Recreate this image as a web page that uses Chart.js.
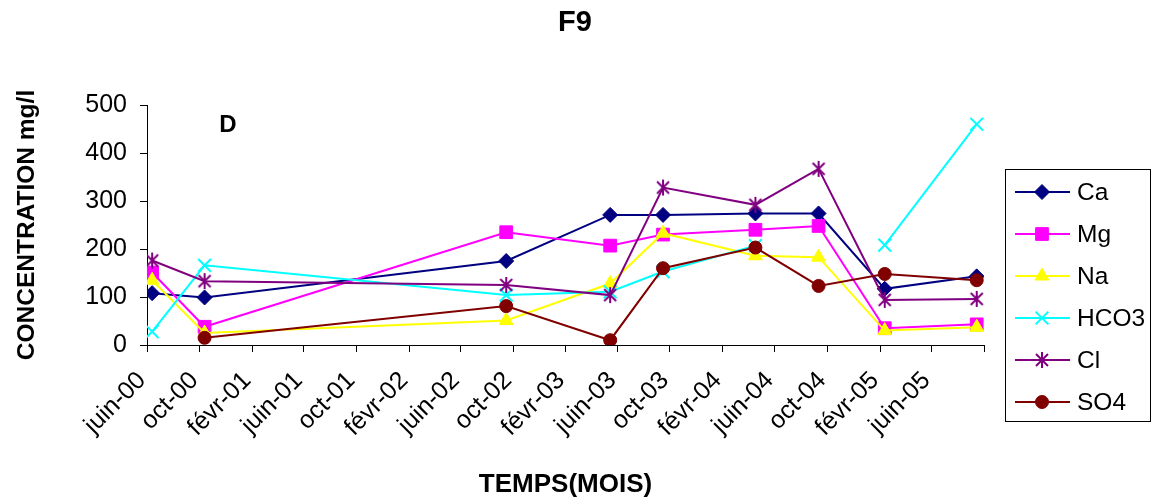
<!DOCTYPE html>
<html>
<head>
<meta charset="utf-8">
<title>F9</title>
<script src="https://cdn.jsdelivr.net/npm/chart.js@4.4.1/dist/chart.umd.min.js"></script>
<style>
  html, body { margin: 0; padding: 0; background: #fff; }
  #wrap { width: 1157px; height: 502px; }
</style>
</head>
<body>
<div id="wrap"><canvas id="c" width="1157" height="502"></canvas></div>
<script>
// Sampling dates of well F9
const sampleDates = ['2000-06-13', '2000-10-13', '2002-09-15', '2003-05-15', '2003-09-15',
                     '2004-04-17', '2004-09-11', '2005-02-12', '2005-09-14'];

// Major ticks every four months
const tickDates = ['2000-06-01', '2000-10-01', '2001-02-01', '2001-06-01', '2001-10-01',
                   '2002-02-01', '2002-06-01', '2002-10-01', '2003-02-01', '2003-06-01',
                   '2003-10-01', '2004-02-01', '2004-06-01', '2004-10-01', '2005-02-01',
                   '2005-06-01', '2005-10-01'];
const tickLabels = ['juin-00', 'oct-00', 'févr-01', 'juin-01', 'oct-01', 'févr-02', 'juin-02',
                    'oct-02', 'févr-03', 'juin-03', 'oct-03', 'févr-04', 'juin-04', 'oct-04',
                    'févr-05', 'juin-05', ''];

// Concentrations (mg/l); null = not analysed
const ca   = [108,  99, 175, 271, 271, 274, 274, 117, 143];
const mg   = [151,  38, 235, 207, 230, 240, 248,  35,  43];
const na   = [135,  25,  51, 128, 233, 186, 183,  30,  37];
const hco3 = [ 28, 166, 104, 111, 153, 207, null, 208, 460];
const cl   = [176, 133, 125, 104, 328, 292, 367,  94,  96];
const so4  = [null, 15,  81,  10, 160, 203, 123, 148, 135];

const yMin = 0, yMax = 500, yStep = 100;

const FONT = "'Liberation Sans', Arial, sans-serif";
Chart.defaults.font.family = FONT;
Chart.defaults.color = '#000';

const toDay = s => Date.parse(s + 'T00:00:00Z') / 86400000;
const pts = vals => vals.map((v, i) => ({ x: toDay(sampleDates[i]), y: v }));

// Asterisk marker: an X crossed by a vertical stroke
function starMarker(color) {
  const c = document.createElement('canvas');
  c.width = 18; c.height = 18;
  const g = c.getContext('2d');
  g.strokeStyle = color; g.lineWidth = 2;
  g.beginPath();
  g.moveTo(3, 3);  g.lineTo(15, 15);
  g.moveTo(15, 3); g.lineTo(3, 15);
  g.moveTo(9, 1);  g.lineTo(9, 17);
  g.stroke();
  return c;
}

function series(label, vals, color, style, radius, extra) {
  return Object.assign({
    label,
    data: pts(vals),
    borderColor: color,
    backgroundColor: color,
    borderWidth: 2,
    pointStyle: style,
    pointRadius: radius,
    pointHoverRadius: radius,
    pointBackgroundColor: color,
    pointBorderColor: color,
    pointBorderWidth: 1,
    tension: 0,
    spanGaps: false
  }, extra || {});
}

const datasets = [
  series('Ca',   ca,   '#000080', 'rectRot',  7.5),
  series('Mg',   mg,   '#FF00FF', 'rect',     9),
  series('Na',   na,   '#FFFF00', 'triangle', 8),
  series('HCO3', hco3, '#00FFFF', 'crossRot', 9, { pointBorderWidth: 2 }),
  series('Cl',   cl,   '#800080', starMarker('#800080'), 8),
  series('SO4',  so4,  '#800000', 'circle',   6.5)
];
// later series are painted above earlier ones
datasets.forEach((d, i) => { d.order = datasets.length - i; });

// White page, title, panel letter and boxed legend
const decorations = {
  id: 'decorations',
  beforeDraw(chart) {
    const ctx = chart.ctx;
    ctx.save();
    ctx.fillStyle = '#fff';
    ctx.fillRect(0, 0, chart.width, chart.height);
    ctx.restore();
  },
  afterDraw(chart) {
    const ctx = chart.ctx;
    ctx.save();
    ctx.fillStyle = '#000';
    ctx.textAlign = 'center';
    ctx.textBaseline = 'middle';
    ctx.font = 'bold 29px ' + FONT;
    ctx.fillText('F9', 575, 23);
    ctx.font = 'bold 24px ' + FONT;
    ctx.fillText('D', 228, 125);

    // legend
    const box = { x: 1005.5, y: 169.5, w: 145, h: 252 };
    ctx.strokeStyle = '#000';
    ctx.lineWidth = 1;
    ctx.strokeRect(box.x, box.y, box.w, box.h);
    ctx.font = '24.5px ' + FONT;
    ctx.textAlign = 'left';
    chart.data.datasets.forEach((d, i) => {
      const y = 192 + i * 42;
      ctx.strokeStyle = d.borderColor;
      ctx.lineWidth = 2;
      ctx.beginPath();
      ctx.moveTo(1015, y);
      ctx.lineTo(1070, y);
      ctx.stroke();
      ctx.fillStyle = d.pointBackgroundColor;
      ctx.strokeStyle = d.pointBorderColor;
      ctx.lineWidth = d.pointBorderWidth;
      Chart.helpers.drawPoint(ctx, {
        pointStyle: d.pointStyle, radius: d.pointRadius, rotation: 0, borderWidth: d.pointBorderWidth
      }, 1042, y);
      ctx.fillStyle = '#000';
      ctx.fillText(d.label, 1077, y + 1);
    });
    ctx.restore();
  }
};

new Chart(document.getElementById('c'), {
  type: 'line',
  data: { datasets },
  plugins: [decorations],
  options: {
    responsive: false,
    animation: false,
    events: [],
    layout: { padding: { top: 105, right: 173, left: 0, bottom: 0 } },
    plugins: { legend: { display: false }, title: { display: false }, tooltip: { enabled: false } },
    scales: {
      x: {
        type: 'linear',
        min: toDay(tickDates[0]),
        max: toDay(tickDates[tickDates.length - 1]),
        afterBuildTicks(scale) { scale.ticks = tickDates.map(d => ({ value: toDay(d) })); },
        afterFit(scale) { scale.height = 157; },
        grid: { drawOnChartArea: false, drawTicks: true, tickLength: 7, color: '#000' },
        border: { display: true, color: '#000', width: 1 },
        ticks: {
          autoSkip: false, minRotation: 45, maxRotation: 45, padding: 14, labelOffset: -5,
          font: { size: 25 }, color: '#000',
          callback: (v, i) => tickLabels[i]
        },
        title: { display: true, text: 'TEMPS(MOIS)', font: { size: 26, weight: 'bold' },
                 color: '#000', padding: { top: 0, bottom: 2 } }
      },
      y: {
        min: yMin, max: yMax,
        afterFit(scale) { scale.width = 147; },
        grid: { drawOnChartArea: false, drawTicks: true, tickLength: 7, color: '#000' },
        border: { display: true, color: '#000', width: 1 },
        ticks: { stepSize: yStep, padding: 13, font: { size: 25 }, color: '#000' },
        title: { display: true, text: 'CONCENTRATION mg/l', font: { size: 24.5, weight: 'bold' },
                 color: '#000', padding: { top: 13, bottom: 0 } }
      }
    }
  }
});
</script>
</body>
</html>
